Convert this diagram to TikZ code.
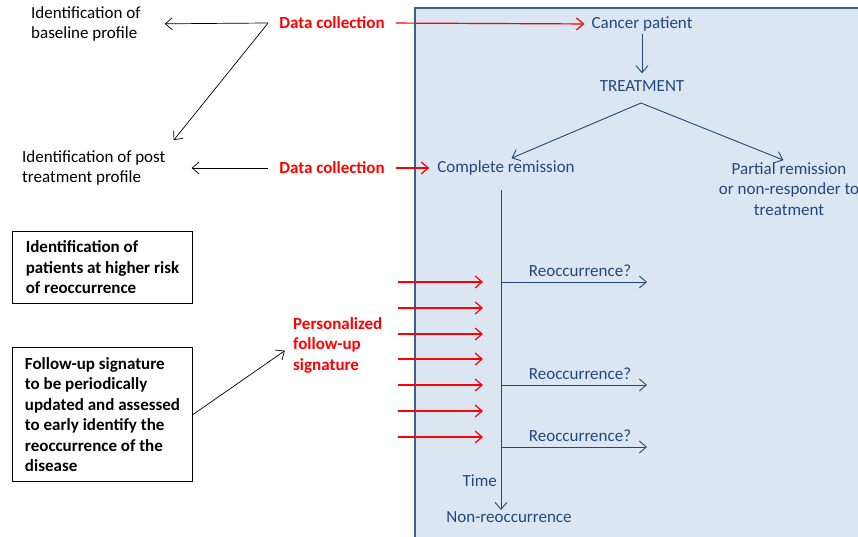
\documentclass[tikz,border=0pt]{standalone}
\usepackage{fontspec}
\setmainfont{Carlito}
\usetikzlibrary{arrows.meta, positioning, calc}
\definecolor{colRed}{RGB}{255, 0, 0}
\definecolor{colNavy}{RGB}{31, 73, 125}
\definecolor{colPanel}{RGB}{220, 230, 242}
\definecolor{colFrame}{RGB}{60, 96, 142}

\tikzset{
    txt/.style={font=\fontsize{17}{20.5}\selectfont, inner sep=0pt, align=left},
    bluetxt/.style={txt, text=colNavy, align=center},
    redtxt/.style={txt, text=colRed, font=\fontsize{17}{20.5}\selectfont\bfseries},
    infobox/.style={txt, font=\fontsize{17}{20.5}\selectfont\bfseries, draw, line width=1pt,
        minimum width=180pt, anchor=north west},
    barb/.style={-{Straight Barb[length=7pt,width=12pt]}},
    blk/.style={barb, line width=0.7pt, black},
    redline/.style={barb, line width=1.2pt, colRed},
    blueline/.style={line width=0.9pt, colNavy}
}

\begin{document}
\begin{tikzpicture}[x=1pt, y=-1pt]
    \clip (0, 0) rectangle (858, 537);

    % --- Panel ---
    \draw[fill=colPanel, draw=colFrame, line width=2.8pt] (415, 8) rectangle (890, 570);

    % --- Left side ---
    \node[txt, anchor=west] (base) at (31, 24) {Identification of\\baseline profile};
    \node[txt, anchor=west] (post) at (22, 168) {Identification of post\\treatment profile};
    \node[redtxt] (dc1) at (332, 23) {Data collection};
    \node[redtxt] (dc2) at (332, 168) {Data collection};

    \node[infobox, minimum height=72pt] (risk) at (12, 231)
        {Identification of\\patients at higher risk\\of reoccurrence};
    \node[infobox, minimum height=134pt] (follow) at (12, 347)
        {Follow-up signature\\to be periodically\\updated and assessed\\to early identify the\\reoccurrence of the\\disease};
    \node[redtxt, anchor=west] (pers) at (293, 345) {Personalized\\follow-up\\signature};

    % --- Panel content ---
    \node[bluetxt] (cancer) at (642, 24) {Cancer patient};
    \node[bluetxt] (treat) at (642, 86) {TREATMENT};
    \node[bluetxt] (complete) at (506, 168) {Complete remission};
    \node[bluetxt] (partial) at (789, 189) {Partial remission\\or non-responder to\\treatment};
    \node[bluetxt, anchor=east] (time) at (497, 481) {Time};
    \node[bluetxt] (nonre) at (509, 517) {Non-reoccurrence};

    \coordinate (fork) at (641, 103);
    \coordinate (tTop) at (501, 190);
    \coordinate (tEnd) at (501, 510);

    % --- Connectors ---
    \coordinate (dcL) at ($(dc1.west)+(-11, 0)$);
    \draw[blk, shorten >=24pt] (dcL) -- (base.east);
    \draw[blk] (dcL) -- ($(post.north east)+(8, -10)$);
    \draw[blk, shorten <=11pt, shorten >=26pt] (dc2.west) -- (post.east);
    \draw[blk, shorten >=10pt] (follow.east) -- (pers.west);

    \draw[redline, shorten <=11pt, shorten >=7pt] (dc1.east) -- (cancer.west);
    \draw[redline, shorten <=11pt, shorten >=8pt] (dc2.east) -- (complete.west);

    \draw[blueline, barb, shorten <=3pt, shorten >=7pt] (cancer.south) -- (treat.north);
    \draw[blueline, barb, shorten >=6pt] (fork) -- (complete.north);
    \draw[blueline, barb, shorten >=6pt] (fork) -- (partial.north);
    \draw[blueline, barb] (tTop) -- (tEnd);

    % Reoccurrence branches
    \foreach \y/\n in {282/1, 385/2, 447/3} {
        \coordinate (br\n) at (647, \y);
        \draw[blueline, barb] (501, \y) -- (br\n);
        \node[bluetxt] (re\n) at (580, \y-11) {Reoccurrence?};
    }

    % Follow-up checks
    \foreach \y in {282, 308, 334, 359, 385, 411, 437} {
        \draw[redline] (398, \y) -- (483, \y);
    }
\end{tikzpicture}
\end{document}
